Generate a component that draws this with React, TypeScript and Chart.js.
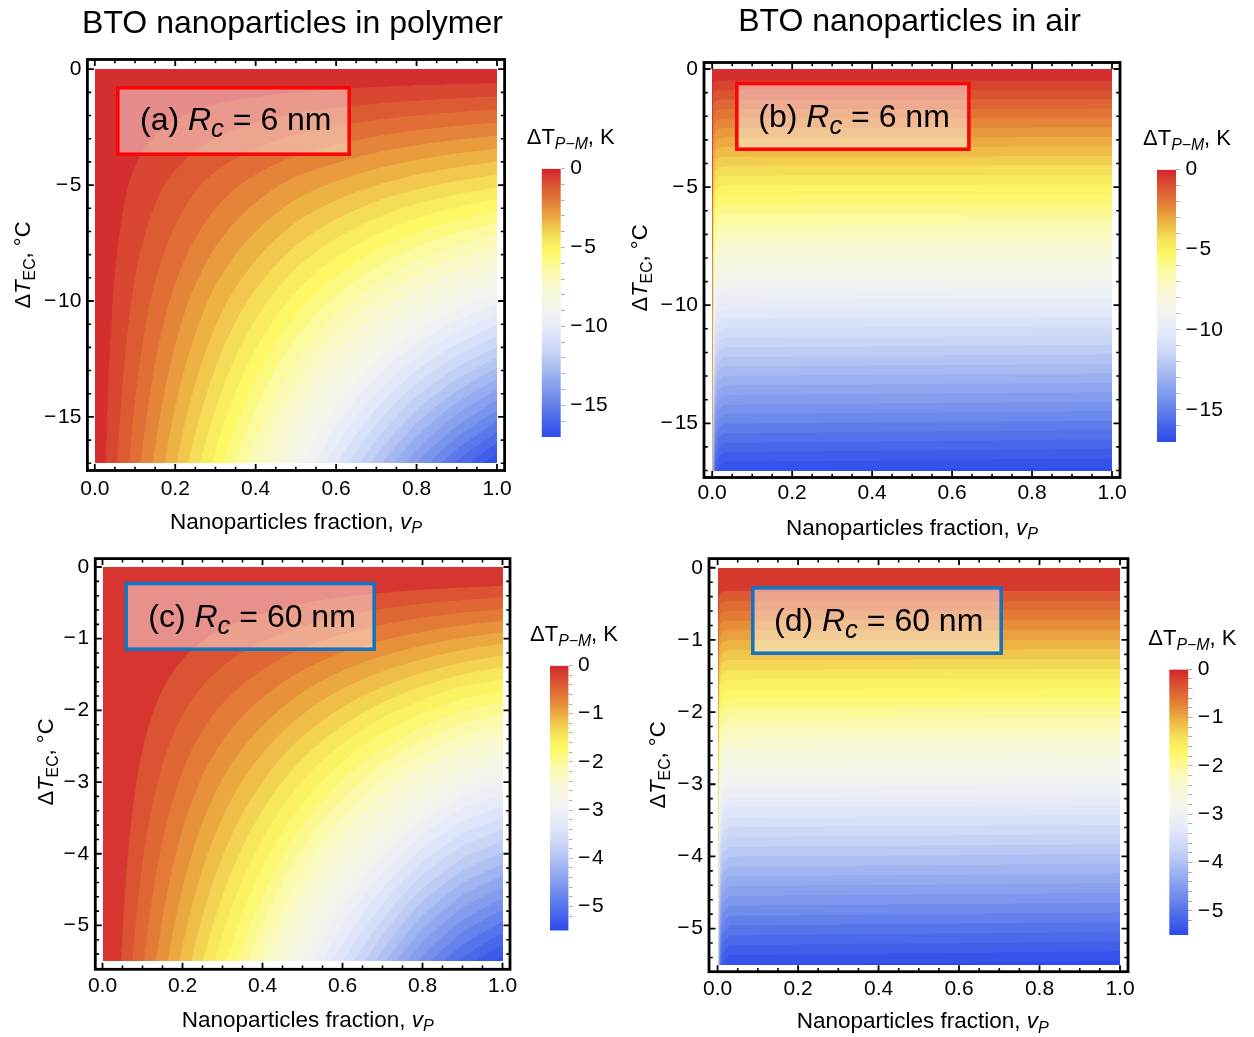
import React, { useEffect, useRef } from "react";
import { Chart, registerables } from "chart.js";

Chart.register(...registerables);

const FONT = '"Liberation Sans", Arial, Helvetica, sans-serif';

/* ------------------------------------------------------------------ */
/* data                                                                */
/* ------------------------------------------------------------------ */

// frame tick labels
const vpTickValues = [0, 0.2, 0.4, 0.6, 0.8, 1.0];
const ecTickValues6nm = [0, -5, -10, -15];
const ecTickValues60nm = [0, -1, -2, -3, -4, -5];

// nanoparticle-fraction nodes of the sampled ΔT_P-M maps
const vpNodesPolymer = [0, 0.025, 0.05, 0.1, 0.2, 0.3, 0.4, 0.5, 0.6, 0.7, 0.8, 0.9, 1.0];
const vpNodesAir = [0, 0.003, 0.008, 0.015, 0.03, 1.0];

// (a) polymer matrix, Rc = 6 nm — rows: ΔT_EC (°C), values: ΔT_P-M (K)
const ecRowsPolymer6nm = [0, -1, -5, -10, -17];
const dtPolymer6nm = [
  [0, 0, 0, 0, 0, 0, 0, 0, 0, 0, 0, 0, 0],
  [0, -0.03, -0.06, -0.12, -0.22, -0.32, -0.41, -0.5, -0.58, -0.65, -0.72, -0.78, -0.84],
  [0, -0.15, -0.3, -0.6, -1.15, -1.7, -2.2, -2.7, -3.1, -3.5, -3.85, -4.15, -4.4],
  [0, -0.28, -0.56, -1.1, -2.15, -3.2, -4.2, -5.2, -6.15, -7.05, -7.9, -8.65, -9.35],
  [0, -0.45, -0.9, -1.75, -3.45, -5.15, -6.9, -8.65, -10.45, -12.25, -14.0, -15.6, -16.95],
];

// (b) air, Rc = 6 nm
const ecRowsAir6nm = [0, -17];
const dtAir6nm = [
  [0, 0, 0, 0, 0, 0],
  [0, -13.5, -16.0, -16.6, -16.85, -17.0],
];

// (c) polymer matrix, Rc = 60 nm
const ecRowsPolymer60nm = [0, -1, -2.75, -5.5];
const dtPolymer60nm = [
  [0, 0, 0, 0, 0, 0, 0, 0, 0, 0, 0, 0, 0],
  [0, -0.025, -0.05, -0.1, -0.2, -0.3, -0.4, -0.51, -0.62, -0.72, -0.82, -0.91, -0.99],
  [0, -0.07, -0.14, -0.28, -0.56, -0.84, -1.12, -1.42, -1.72, -2.02, -2.3, -2.56, -2.72],
  [0, -0.14, -0.28, -0.56, -1.1, -1.65, -2.22, -2.82, -3.45, -4.05, -4.65, -5.12, -5.45],
];

// (d) air, Rc = 60 nm
const ecRowsAir60nm = [0, -5.5];
const dtAir60nm = [
  [0, 0, 0, 0, 0, 0],
  [0, -4.3, -5.15, -5.35, -5.45, -5.5],
];

// contour levels (first level below zero and spacing), K
const contours6nmPolymer = { first: -0.5, step: 0.5 };
const contours6nmAir = { first: -0.48, step: 0.4 };
const contours60nmPolymer = { first: -0.26, step: 0.16 };
const contours60nmAir = { first: -0.32, step: 0.135 };

// colour-bar ranges, K
const dtRange6nm = -17;
const dtRange60nm = -5.5;

// temperature colour map: fraction of the range (0 = 0 K) → RGB
const temperatureStops: number[][] = [
  [0.0, 210, 36, 45],
  [0.06, 219, 82, 50],
  [0.13, 228, 130, 55],
  [0.2, 238, 185, 70],
  [0.26, 247, 228, 90],
  [0.31, 253, 248, 100],
  [0.38, 251, 250, 170],
  [0.45, 248, 248, 215],
  [0.53, 242, 243, 240],
  [0.6, 228, 233, 250],
  [0.68, 200, 212, 246],
  [0.76, 160, 180, 241],
  [0.85, 115, 143, 236],
  [0.93, 75, 105, 234],
  [1.0, 45, 75, 235],
];

/* ------------------------------------------------------------------ */
/* text                                                                */
/* ------------------------------------------------------------------ */

type Seg = { t: string; it?: boolean; sub?: boolean };

const titlePolymer = "BTO nanoparticles in polymer";
const titleAir = "BTO nanoparticles in air";
const ecAxisTitle: Seg[] = [{ t: "Δ" }, { t: "T", it: true }, { t: "EC", sub: true }, { t: ", °C" }];
const vpAxisTitle: Seg[] = [{ t: "Nanoparticles fraction, " }, { t: "v", it: true }, { t: "P", it: true, sub: true }];
const barTitle: Seg[] = [{ t: "ΔT" }, { t: "P−M", it: true, sub: true }, { t: ", K" }];
const legendSegs = (tag: string, r: string): Seg[] => [
  { t: `(${tag}) ` },
  { t: "R", it: true },
  { t: "c", it: true, sub: true },
  { t: ` = ${r} nm` },
];

function drawRich(ctx: CanvasRenderingContext2D, segs: Seg[], x: number, y: number, size: number, align: "left" | "center", subScale = 0.72) {
  const parts = segs.map((s) => {
    const fs = s.sub ? size * subScale : size;
    const font = `${s.it ? "italic " : ""}${fs}px ${FONT}`;
    ctx.font = font;
    return { s, font, w: ctx.measureText(s.t).width };
  });
  const total = parts.reduce((a, p) => a + p.w, 0);
  let cx = align === "center" ? x - total / 2 : x;
  ctx.textAlign = "left";
  ctx.textBaseline = "alphabetic";
  ctx.fillStyle = "#000";
  for (const p of parts) {
    ctx.font = p.font;
    ctx.fillText(p.s.t, cx, y + (p.s.sub ? size * 0.22 : 0));
    cx += p.w;
  }
}

const minusLabel = (v: number) =>
  Math.abs(v) < 1e-9 ? "0" : (v < 0 ? "−\u200A" : "") + String(Math.abs(Math.round(v * 10) / 10));

/* ------------------------------------------------------------------ */
/* colour helpers                                                      */
/* ------------------------------------------------------------------ */

function cmap(s: number): number[] {
  const t = Math.min(1, Math.max(0, s));
  for (let i = 0; i < temperatureStops.length - 1; i++) {
    const a = temperatureStops[i];
    const b = temperatureStops[i + 1];
    if (t <= b[0]) {
      const f = (t - a[0]) / (b[0] - a[0]);
      return [a[1] + (b[1] - a[1]) * f, a[2] + (b[2] - a[2]) * f, a[3] + (b[3] - a[3]) * f];
    }
  }
  const l = temperatureStops[temperatureStops.length - 1];
  return [l[1], l[2], l[3]];
}

type FieldMap = { vp: number[]; ec: number[]; dt: number[][]; first: number; step: number };

function sampleMap(m: FieldMap, v: number, t: number): number {
  const xs = m.vp;
  const ys = m.ec;
  let i = 0;
  while (i < xs.length - 2 && v > xs[i + 1]) i++;
  let j = 0;
  while (j < ys.length - 2 && t < ys[j + 1]) j++;
  const fx = Math.min(1, Math.max(0, (v - xs[i]) / (xs[i + 1] - xs[i])));
  const fy = Math.min(1, Math.max(0, (t - ys[j]) / (ys[j + 1] - ys[j])));
  const g = m.dt;
  const a = g[j][i] + (g[j][i + 1] - g[j][i]) * fx;
  const b = g[j + 1][i] + (g[j + 1][i + 1] - g[j + 1][i]) * fx;
  return a + (b - a) * fy;
}

/* ------------------------------------------------------------------ */
/* panels                                                              */
/* ------------------------------------------------------------------ */

type Rect = { L: number; T: number; R: number; B: number };
type PanelCfg = {
  key: string;
  canvas: { left: number; top: number; width: number; height: number };
  frame: Rect;
  xPix: [number, number];
  yPix: [number, number, number];
  ecMin: number;
  ecTicks: number[];
  ecMinor: number;
  ecMajor: number;
  map: FieldMap;
  range: number;
  title: { text: string; x: number; y: number } | null;
  yLabel: [number, number];
  xLabel: [number, number];
  legend: { box: number[]; text: [number, number]; colour: string; segs: Seg[] };
  xTickPad: number;
};

const RED = "rgb(250,6,6)";
const BLUE = "rgb(24,114,190)";

const panels: PanelCfg[] = [
  {
    key: "a",
    canvas: { left: 0, top: 0, width: 530, height: 545 },
    frame: { L: 87.4, T: 59.5, R: 504.6, B: 470.5 },
    xPix: [94.8, 497],
    yPix: [69.2, 416.9, -15],
    ecMin: -17,
    ecTicks: ecTickValues6nm,
    ecMinor: 1,
    ecMajor: 5,
    map: { vp: vpNodesPolymer, ec: ecRowsPolymer6nm, dt: dtPolymer6nm, ...contours6nmPolymer },
    range: dtRange6nm,
    title: { text: titlePolymer, x: 292.5, y: 33 },
    yLabel: [22, 265],
    xLabel: [170, 528.5],
    legend: { box: [116, 86, 351, 156], text: [140, 130], colour: RED, segs: legendSegs("a", "6") },
    xTickPad: 5.9,
  },
  {
    key: "b",
    canvas: { left: 615, top: 0, width: 525, height: 545 },
    frame: { L: 704, T: 62.5, R: 1120, B: 477.5 },
    xPix: [712.2, 1112],
    yPix: [69, 423.3, -15],
    ecMin: -17,
    ecTicks: ecTickValues6nm,
    ecMinor: 1,
    ecMajor: 5,
    map: { vp: vpNodesAir, ec: ecRowsAir6nm, dt: dtAir6nm, ...contours6nmAir },
    range: dtRange6nm,
    title: { text: titleAir, x: 909.5, y: 31 },
    yLabel: [639, 268],
    xLabel: [786, 534.5],
    legend: { box: [735, 81.7, 970.7, 151], text: [758.3, 127.3], colour: RED, segs: legendSegs("b", "6") },
    xTickPad: 3.5,
  },
  {
    key: "c",
    canvas: { left: 0, top: 540, width: 530, height: 497 },
    frame: { L: 95.3, T: 554.3, R: 510, B: 969.3 },
    xPix: [102.5, 502.5],
    yPix: [562.8, 925, -5],
    ecMin: -5.5,
    ecTicks: ecTickValues60nm,
    ecMinor: 0.2,
    ecMajor: 1,
    map: { vp: vpNodesPolymer, ec: ecRowsPolymer60nm, dt: dtPolymer60nm, ...contours60nmPolymer },
    range: dtRange60nm,
    title: null,
    yLabel: [45, 762],
    xLabel: [181.7, 1026.5],
    legend: { box: [124.3, 581.7, 376, 651], text: [148.3, 627], colour: BLUE, segs: legendSegs("c", "60") },
    xTickPad: 4,
  },
  {
    key: "d",
    canvas: { left: 615, top: 540, width: 525, height: 497 },
    frame: { L: 709, T: 556, R: 1128, B: 971.7 },
    xPix: [717.6, 1120],
    yPix: [565.2, 928.3, -5],
    ecMin: -5.5,
    ecTicks: ecTickValues60nm,
    ecMinor: 0.2,
    ecMajor: 1,
    map: { vp: vpNodesAir, ec: ecRowsAir60nm, dt: dtAir60nm, ...contours60nmAir },
    range: dtRange60nm,
    title: null,
    yLabel: [657, 765],
    xLabel: [796.7, 1028],
    legend: { box: [751, 586, 1003, 655], text: [774, 631], colour: BLUE, segs: legendSegs("d", "60") },
    xTickPad: 5,
  },
];

function bandColourFor(p: PanelCfg) {
  const cache = new Map<number, number[]>();
  const { first, step } = p.map;
  return (f: number): number[] => {
    const k = f > first ? -1 : Math.floor((first - f) / step);
    let c = cache.get(k);
    if (!c) {
      const mid = k < 0 ? first / 2 : first - (k + 0.5) * step;
      c = cmap(mid / p.range);
      cache.set(k, c);
    }
    return c;
  };
}

function panelPlugins(p: PanelCfg) {
  const ox = p.canvas.left;
  const oy = p.canvas.top;
  const colourOf = bandColourFor(p);

  const field = {
    id: "field",
    beforeDatasetsDraw(chart: any) {
      const { ctx, scales } = chart;
      const xs = scales.x;
      const ys = scales.y;
      const left = xs.getPixelForValue(0);
      const right = xs.getPixelForValue(1);
      const top = ys.getPixelForValue(0);
      const bottom = ys.getPixelForValue(p.ecMin);
      const W = Math.round(right - left);
      const H = Math.round(bottom - top);
      const SS = 2;
      const off = document.createElement("canvas");
      off.width = W * SS;
      off.height = H * SS;
      const octx = off.getContext("2d")!;
      const img = octx.createImageData(W * SS, H * SS);
      const d = img.data;
      const vCol: number[] = [];
      for (let i = 0; i < W * SS; i++) vCol.push(xs.getValueForPixel(left + ((i + 0.5) / SS) * ((right - left) / W)));
      for (let j = 0; j < H * SS; j++) {
        const t = ys.getValueForPixel(top + ((j + 0.5) / SS) * ((bottom - top) / H));
        for (let i = 0; i < W * SS; i++) {
          const c = colourOf(sampleMap(p.map, vCol[i], t));
          const o = (j * W * SS + i) * 4;
          d[o] = c[0];
          d[o + 1] = c[1];
          d[o + 2] = c[2];
          d[o + 3] = 255;
        }
      }
      octx.putImageData(img, 0, 0);
      ctx.save();
      ctx.imageSmoothingEnabled = true;
      ctx.imageSmoothingQuality = "high";
      ctx.drawImage(off, left, top, right - left, bottom - top);
      ctx.restore();
    },
  };

  const decor = {
    id: "decor",
    afterDatasetsDraw(chart: any) {
      const ctx: CanvasRenderingContext2D = chart.ctx;
      const [x0, y0, x1, y1] = p.legend.box;
      const lw = 3.6;
      ctx.save();
      ctx.fillStyle = "rgba(255,255,255,0.45)";
      ctx.fillRect(x0 - ox + lw / 2, y0 - oy + lw / 2, x1 - x0 - lw, y1 - y0 - lw);
      ctx.strokeStyle = p.legend.colour;
      ctx.lineWidth = lw;
      ctx.strokeRect(x0 - ox + lw / 2, y0 - oy + lw / 2, x1 - x0 - lw, y1 - y0 - lw);
      drawRich(ctx, p.legend.segs, p.legend.text[0] - ox, p.legend.text[1] - oy, 32, "left", 0.8);
      ctx.restore();
    },
    afterDraw(chart: any) {
      const ctx: CanvasRenderingContext2D = chart.ctx;
      const { chartArea: a, scales } = chart;
      const xs = scales.x;
      const ys = scales.y;
      ctx.save();
      // frame ticks on all four sides, pointing inwards
      ctx.strokeStyle = "#000";
      ctx.lineCap = "butt";
      const nx = Math.round(1 / 0.05);
      for (let k = 0; k <= nx; k++) {
        const v = k * 0.05;
        const major = k % 4 === 0;
        const px = xs.getPixelForValue(v);
        const len = major ? 6.5 : 3.8;
        ctx.lineWidth = major ? 1.8 : 1.6;
        ctx.beginPath();
        ctx.moveTo(px, a.bottom);
        ctx.lineTo(px, a.bottom - len);
        ctx.moveTo(px, a.top);
        ctx.lineTo(px, a.top + len);
        ctx.stroke();
      }
      const ny = Math.floor(Math.abs(p.ecMin) / p.ecMinor + 1e-6);
      const perMajor = Math.round(p.ecMajor / p.ecMinor);
      for (let k = 0; k <= ny; k++) {
        const t = -k * p.ecMinor;
        const major = k % perMajor === 0;
        const py = ys.getPixelForValue(t);
        const len = major ? 6.5 : 3.8;
        ctx.lineWidth = major ? 1.8 : 1.6;
        ctx.beginPath();
        ctx.moveTo(a.left, py);
        ctx.lineTo(a.left + len, py);
        ctx.moveTo(a.right, py);
        ctx.lineTo(a.right - len, py);
        ctx.stroke();
      }
      ctx.lineWidth = 2.8;
      ctx.strokeRect(a.left, a.top, a.right - a.left, a.bottom - a.top);

      // titles
      if (p.title) {
        ctx.fillStyle = "#000";
        ctx.font = `32px ${FONT}`;
        ctx.textAlign = "center";
        ctx.textBaseline = "alphabetic";
        ctx.fillText(p.title.text, p.title.x - ox, p.title.y - oy);
      }
      drawRich(ctx, vpAxisTitle, p.xLabel[0] - ox, p.xLabel[1] - oy, 22.5, "left");
      ctx.save();
      ctx.translate(p.yLabel[0] - ox, p.yLabel[1] - oy);
      ctx.rotate(-Math.PI / 2);
      drawRich(ctx, ecAxisTitle, 0, 7.8, 22, "center");
      ctx.restore();
      ctx.restore();
    },
  };
  return [field, decor];
}

function panelConfig(p: PanelCfg): any {
  const { frame: f, canvas: c } = p;
  const xk = 1 / (p.xPix[1] - p.xPix[0]);
  const xMin = (f.L - p.xPix[0]) * xk;
  const xMax = (f.R - p.xPix[0]) * xk;
  const yk = p.yPix[2] / (p.yPix[1] - p.yPix[0]);
  const yMax = (f.T - p.yPix[0]) * yk;
  const yMin = (f.B - p.yPix[0]) * yk;
  const tickFont = { family: FONT, size: 21 };
  return {
    type: "scatter",
    data: { datasets: [{ data: [] as any[], pointRadius: 0 }] },
    options: {
      animation: false,
      responsive: false,
      devicePixelRatio: 1,
      events: [],
      layout: { padding: { top: f.T - c.top, right: c.left + c.width - f.R, left: 0, bottom: 0 } },
      plugins: { legend: { display: false }, tooltip: { enabled: false }, title: { display: false } },
      scales: {
        x: {
          type: "linear",
          min: xMin,
          max: xMax,
          afterBuildTicks: (s: any) => {
            s.ticks = vpTickValues.map((value) => ({ value }));
          },
          afterFit: (s: any) => {
            s.height = c.top + c.height - f.B;
          },
          ticks: {
            autoSkip: false,
            maxRotation: 0,
            minRotation: 0,
            padding: p.xTickPad,
            color: "#000",
            font: tickFont,
            callback: (v: any) => Number(v).toFixed(1),
          },
          grid: { display: false, drawTicks: false },
          border: { display: false },
        },
        y: {
          type: "linear",
          min: yMin,
          max: yMax,
          afterBuildTicks: (s: any) => {
            s.ticks = p.ecTicks.map((value) => ({ value }));
          },
          afterFit: (s: any) => {
            s.width = f.L - c.left;
          },
          ticks: {
            autoSkip: false,
            padding: 6,
            color: "#000",
            font: tickFont,
            callback: (v: any) => minusLabel(Number(v)),
          },
          grid: { display: false, drawTicks: false },
          border: { display: false },
        },
      },
    },
    plugins: panelPlugins(p),
  };
}

/* ------------------------------------------------------------------ */
/* colour bars                                                         */
/* ------------------------------------------------------------------ */

type BarCfg = {
  canvas: { left: number; top: number; width: number; height: number };
  bar: Rect;
  range: number;
  tickStep: number;
  labelStep: number;
  title: [number, number];
};

const bars: BarCfg[] = [
  { canvas: { left: 515, top: 115, width: 112, height: 340 }, bar: { L: 541.7, R: 560.7, T: 168.5, B: 440.5 }, range: dtRange6nm, tickStep: 1, labelStep: 5, title: [526.7, 144] },
  { canvas: { left: 1135, top: 115, width: 119, height: 345 }, bar: { L: 1157, R: 1176, T: 169.5, B: 445.5 }, range: dtRange6nm, tickStep: 1, labelStep: 5, title: [1143, 145] },
  { canvas: { left: 520, top: 610, width: 110, height: 340 }, bar: { L: 550, R: 568.5, T: 665.5, B: 930.6 }, range: dtRange60nm, tickStep: 0.2, labelStep: 1, title: [530, 641] },
  { canvas: { left: 1140, top: 615, width: 114, height: 340 }, bar: { L: 1169.3, R: 1188.3, T: 669.3, B: 935 }, range: dtRange60nm, tickStep: 0.2, labelStep: 1, title: [1148.3, 645] },
];

function barConfig(b: BarCfg): any {
  const { canvas: c, bar } = b;
  const n = Math.floor(Math.abs(b.range) / b.tickStep + 1e-6);
  const tickVals: number[] = [];
  for (let k = 0; k < n; k++) tickVals.push(-Math.round(k * b.tickStep * 1000) / 1000);
  const isLabelled = (v: number) => {
    const q = v / b.labelStep;
    return Math.abs(q - Math.round(q)) < 1e-6;
  };
  return {
    type: "bar",
    data: {
      labels: [""],
      datasets: [
        {
          data: [[b.range, 0]],
          borderWidth: 0,
          barPercentage: 1,
          categoryPercentage: 1,
          backgroundColor: (ctx: any) => {
            const chart = ctx.chart;
            if (!chart.chartArea) return "rgb(200,200,200)";
            const ys = chart.scales.y;
            const g = chart.ctx.createLinearGradient(0, ys.getPixelForValue(0), 0, ys.getPixelForValue(b.range));
            temperatureStops.forEach((s) => g.addColorStop(s[0], `rgb(${s[1]},${s[2]},${s[3]})`));
            return g;
          },
        },
      ],
    },
    options: {
      animation: false,
      responsive: false,
      devicePixelRatio: 1,
      events: [],
      layout: { padding: { left: bar.L - c.left, top: bar.T - c.top, bottom: c.top + c.height - bar.B, right: 0 } },
      plugins: { legend: { display: false }, tooltip: { enabled: false } },
      scales: {
        x: { display: false },
        y: {
          position: "right",
          min: b.range,
          max: 0,
          afterBuildTicks: (s: any) => {
            s.ticks = tickVals.map((value) => ({ value }));
          },
          afterFit: (s: any) => {
            s.width = c.left + c.width - bar.R;
          },
          ticks: {
            autoSkip: false,
            padding: 5.5,
            color: "#000",
            font: { family: FONT, size: 21 },
            callback: (v: any) => (isLabelled(Number(v)) ? minusLabel(Number(v)) : ""),
          },
          grid: { drawOnChartArea: false, drawTicks: true, tickLength: 4, tickColor: "rgb(175,175,175)", tickWidth: 1 },
          border: { display: false },
        },
      },
    },
    plugins: [
      {
        id: "barTitle",
        afterDraw(chart: any) {
          drawRich(chart.ctx, barTitle, b.title[0] - c.left, b.title[1] - c.top, 22, "left");
        },
      },
    ],
  };
}

/* ------------------------------------------------------------------ */
/* components                                                          */
/* ------------------------------------------------------------------ */

function ChartCanvas({ box, make }: { box: { left: number; top: number; width: number; height: number }; make: () => any }) {
  const ref = useRef<HTMLCanvasElement | null>(null);
  useEffect(() => {
    if (!ref.current) return;
    const chart = new Chart(ref.current, make());
    return () => chart.destroy();
  }, []);
  return (
    <canvas
      ref={ref}
      width={box.width}
      height={box.height}
      style={{ position: "absolute", left: box.left, top: box.top, width: box.width, height: box.height }}
    />
  );
}

export default function App() {
  return (
    <div style={{ position: "absolute", left: 0, top: 0, width: 1254, height: 1037, background: "#fff", overflow: "hidden" }}>
      {panels.map((p) => (
        <ChartCanvas key={p.key} box={p.canvas} make={() => panelConfig(p)} />
      ))}
      {bars.map((b, i) => (
        <ChartCanvas key={`bar${i}`} box={b.canvas} make={() => barConfig(b)} />
      ))}
    </div>
  );
}
